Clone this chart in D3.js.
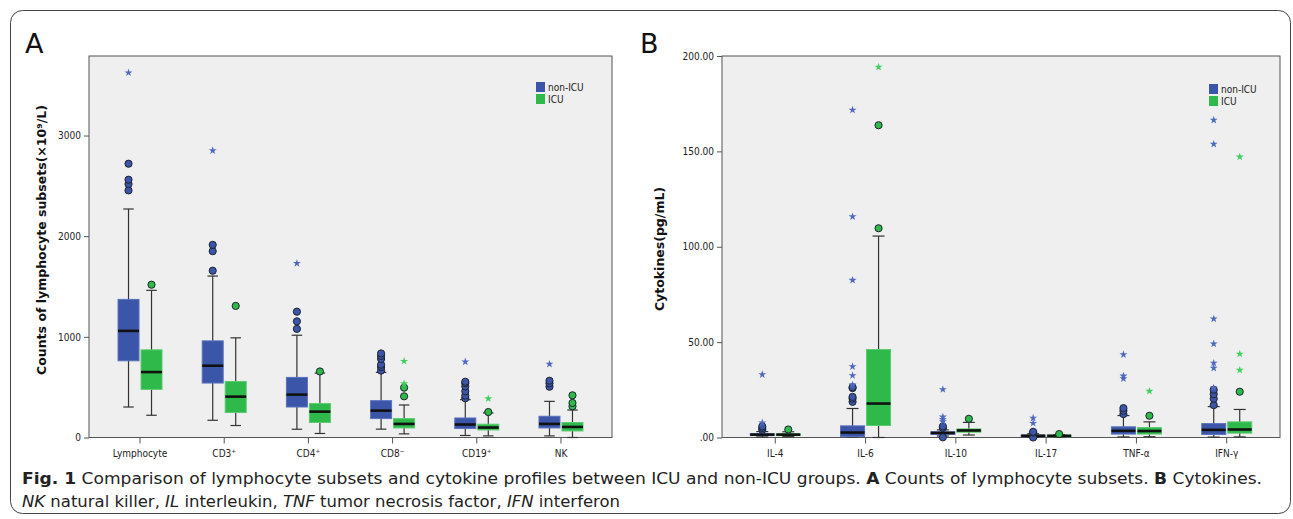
<!DOCTYPE html>
<html>
<head>
<meta charset="utf-8">
<script src="https://cdn.jsdelivr.net/npm/d3@7"></script>
<style>
  body { margin: 0; background: #fff; }
  text { font-family: "DejaVu Sans", sans-serif; }
</style>
</head>
<body>
<div id="chart"></div>
<script>
// panel A: lymphocyte subsets, box = [low whisker, q1, median, q3, high whisker]
const catsA = ["Lymphocyte", "CD3⁺", "CD4⁺", "CD8⁻", "CD19⁺", "NK"];
const aNonIcuBox = [[303, 762, 1059, 1372, 2270], [171, 541, 713, 960, 1604], [82, 303, 426, 597, 1016],
                    [83, 188, 267, 366, 647], [20, 89, 129, 194, 376], [16, 95, 135, 211, 359]];
const aIcuBox = [[221, 478, 650, 871, 1462], [119, 248, 406, 557, 990], [40, 149, 257, 337, 640],
                 [36, 95, 135, 188, 323], [16, 75, 99, 132, 244], [0, 65, 105, 149, 273]];
const aNonIcuOut = [[2455, 2518, 2561, 2720], [1657, 1851, 1914], [1079, 1154, 1250],
                    [665, 700, 723, 780, 810, 835], [390, 416, 459, 508, 540, 554], [505, 538, 564]];
const aNonIcuExt = [[3624], [2851], [1730], [], [752], [729]];
const aIcuOut = [[1518], [1307], [656], [409, 495], [253], [310, 343, 419]];
const aIcuExt = [[], [], [], [535, 758], [386], []];
const aTicks = [0, 1000, 2000, 3000];

// panel B: cytokines
const catsB = ["IL-4", "IL-6", "IL-10", "IL-17", "TNF-α", "IFN-γ"];
const bNonIcuBox = [[0.3, 1.0, 1.5, 2.0, 3.1], [0.3, 0.5, 2.6, 6.1, 15.2], [0.8, 1.6, 2.4, 3.0, 4.0],
                    [0.2, 0.6, 0.9, 1.3, 2.0], [0.3, 1.8, 3.5, 5.6, 11.5], [0.2, 1.6, 4.0, 7.3, 16.2]];
const bIcuBox = [[0.5, 1.0, 1.5, 2.0, 3.0], [0, 6.3, 17.8, 46.1, 105.6], [1.3, 2.8, 3.7, 4.5, 7.9],
                 [0.3, 0.6, 0.9, 1.2, 1.5], [0.4, 1.8, 3.4, 5.2, 8.2], [0.3, 2.3, 4.2, 8.2, 14.7]];
const bNonIcuOut = [[4.0, 5.0, 5.8], [18.7, 20.4, 21.3, 25.9, 26.4], [0.1, 5.0, 5.8],
                    [0.0, 2.5, 3.0], [12.3, 14.0, 15.4], [17.0, 20.3, 22.7, 25.0]];
const bNonIcuExt = [[7.7, 33.0], [27.6, 32.5, 37.2, 82.5, 115.8, 171.7], [8.4, 9.6, 10.8, 25.2],
                    [7.5, 10.2], [30.9, 32.3, 43.5], [26.0, 36.4, 39.0, 49.1, 62.2, 153.8, 166.4]];
const bIcuOut = [[4.2], [109.7, 163.7], [9.8], [1.8], [11.4], [24.0]];
const bIcuExt = [[], [194.2], [], [], [24.3], [35.3, 43.8, 147.1]];
const bTicks = [0, 50, 100, 150, 200];

const groups = ["non-ICU", "ICU"];
const blue = "#3b56a8", green = "#2eb94a";
const blueLine = "#5a72bd", greenLine = "#5ccb70";

const width = 1293, height = 519;
const svg = d3.select("#chart").append("svg")
    .attr("width", width)
    .attr("height", height);

svg.append("rect")
    .attr("x", 10.5).attr("y", 10.5)
    .attr("width", 1280).attr("height", 503)
    .attr("rx", 12)
    .attr("fill", "none")
    .attr("stroke", "#444");

function panel(opts) {
    const g = svg.append("g");
    const x = d3.scaleBand()
        .domain(opts.cats)
        .range([opts.left, opts.right])
        .paddingInner(0)
        .paddingOuter(opts.padOuter);
    const y = d3.scaleLinear()
        .domain(opts.domain)
        .range([opts.bottom, opts.top]);

    g.append("rect")
        .attr("x", opts.left).attr("y", opts.top)
        .attr("width", opts.right - opts.left).attr("height", opts.bottom - opts.top)
        .attr("fill", "#efefef")
        .attr("stroke", "#555");

    // y axis
    g.append("g")
        .attr("transform", `translate(${opts.left},0)`)
        .call(d3.axisLeft(y).tickValues(opts.ticks).tickSize(5).tickFormat(opts.fmt))
        .call(g => g.select(".domain").remove())
        .call(g => g.selectAll("line").attr("stroke", "#555"))
        .call(g => g.selectAll("text").attr("font-size", 10).attr("fill", "#222")
            .style("font-stretch", "condensed"));

    // x axis
    g.append("g")
        .attr("transform", `translate(0,${opts.bottom})`)
        .call(d3.axisBottom(x).tickSize(6).tickPadding(6))
        .call(g => g.select(".domain").remove())
        .call(g => g.selectAll("line").attr("stroke", "#555"))
        .call(g => g.selectAll("text").attr("font-size", 10).attr("fill", "#222")
            .style("font-stretch", "condensed"));

    const bw = opts.boxW;
    const series = [
        {box: opts.nonBox, out: opts.nonOut, ext: opts.nonExt, fill: blue, line: blueLine, dx: -(bw / 2 + 1)},
        {box: opts.icuBox, out: opts.icuOut, ext: opts.icuExt, fill: green, line: greenLine, dx: bw / 2 + 1}
    ];

    series.forEach(s => {
        const sg = g.append("g");
        const cx = (d, i) => x(opts.cats[i]) + x.bandwidth() / 2 + s.dx;
        const items = s.box.map((b, i) => ({b: b, i: i}));

        // whiskers
        sg.selectAll(".wh").data(items).join("line")
            .attr("x1", d => cx(null, d.i)).attr("x2", d => cx(null, d.i))
            .attr("y1", d => y(d.b[0])).attr("y2", d => y(d.b[4]))
            .attr("stroke", "#333").attr("stroke-width", 1.2);
        [0, 4].forEach(k => {
            sg.selectAll(".cap" + k).data(items).join("line")
                .attr("x1", d => cx(null, d.i) - bw / 4).attr("x2", d => cx(null, d.i) + bw / 4)
                .attr("y1", d => y(d.b[k])).attr("y2", d => y(d.b[k]))
                .attr("stroke", "#333").attr("stroke-width", 1.2);
        });
        // boxes
        sg.selectAll(".box").data(items).join("rect")
            .attr("x", d => cx(null, d.i) - bw / 2)
            .attr("y", d => y(d.b[3]))
            .attr("width", bw)
            .attr("height", d => Math.max(1.5, y(d.b[1]) - y(d.b[3])))
            .attr("fill", s.fill)
            .attr("stroke", s.line).attr("stroke-width", 1);
        sg.selectAll(".med").data(items).join("line")
            .attr("x1", d => cx(null, d.i) - bw / 2).attr("x2", d => cx(null, d.i) + bw / 2)
            .attr("y1", d => y(d.b[2])).attr("y2", d => y(d.b[2]))
            .attr("stroke", "#111").attr("stroke-width", 2.6);

        // outliers (circles)
        const outs = s.out.flatMap((arr, i) => arr.map(v => ({v: v, i: i})));
        sg.selectAll(".out").data(outs).join("circle")
            .attr("cx", d => cx(null, d.i))
            .attr("cy", d => y(d.v))
            .attr("r", 3.6)
            .attr("fill", s.fill)
            .attr("stroke", "#1c2430").attr("stroke-width", 1);

        // extremes (stars)
        const exts = s.ext.flatMap((arr, i) => arr.map(v => ({v: v, i: i})));
        sg.selectAll(".ext").data(exts).join("path")
            .attr("transform", d => `translate(${cx(null, d.i)},${y(d.v)})`)
            .attr("d", d3.symbol(d3.symbolStar, 20))
            .attr("fill", s.fill === blue ? "#5068c0" : "#3fcf5e");
    });

    // legend
    const lg = g.append("g").attr("transform", `translate(${opts.legX},${opts.legY})`);
    groups.forEach((name, i) => {
        lg.append("rect")
            .attr("x", 0).attr("y", i * 12 - 5)
            .attr("width", 9).attr("height", 10)
            .attr("fill", i === 0 ? blue : green);
        lg.append("text")
            .attr("x", 12).attr("y", i * 12)
            .attr("dy", "0.35em")
            .attr("font-size", 10)
            .style("font-stretch", "condensed")
            .attr("fill", "#222")
            .text(name);
    });

    // y label
    g.append("text")
        .attr("transform", `translate(${opts.labX},${opts.labY}) rotate(-90)`)
        .attr("text-anchor", "middle")
        .attr("font-size", 12.5)
        .attr("font-weight", "bold")
        .attr("fill", "#111")
        .text(opts.yLabel);

    // panel letter
    svg.append("text")
        .attr("x", opts.letterX).attr("y", 53)
        .attr("font-size", 27)
        .attr("fill", "#111")
        .text(opts.letter);
}

panel({
    cats: catsA, left: 89, right: 612, top: 56, bottom: 437.5, padOuter: 0.106,
    domain: [0, 3790], ticks: aTicks, fmt: d3.format("d"), boxW: 21,
    nonBox: aNonIcuBox, icuBox: aIcuBox, nonOut: aNonIcuOut, icuOut: aIcuOut,
    nonExt: aNonIcuExt, icuExt: aIcuExt,
    legX: 536, legY: 87, labX: 46, labY: 240,
    yLabel: "Counts of lymphocyte subsets(×10⁹/L)", letter: "A", letterX: 25
});

panel({
    cats: catsB, left: 722, right: 1280, top: 56, bottom: 437.5, padOuter: 0.09,
    domain: [0, 200], ticks: bTicks, fmt: d => d === 0 ? ".00" : d3.format(".2f")(d), boxW: 24,
    nonBox: bNonIcuBox, icuBox: bIcuBox, nonOut: bNonIcuOut, icuOut: bIcuOut,
    nonExt: bNonIcuExt, icuExt: bIcuExt,
    legX: 1209, legY: 89, labX: 664, labY: 249,
    yLabel: "Cytokines(pg/mL)", letter: "B", letterX: 640
});

// caption
const cap1 = svg.append("text")
    .attr("x", 22).attr("y", 484)
    .attr("font-size", 16.5)
    .attr("fill", "#222")
    .attr("textLength", 1240)
    .attr("lengthAdjust", "spacingAndGlyphs");
cap1.append("tspan").attr("font-weight", "bold").text("Fig. 1");
cap1.append("tspan").text("  Comparison of lymphocyte subsets and cytokine profiles between ICU and non-ICU groups. ");
cap1.append("tspan").attr("font-weight", "bold").text("A");
cap1.append("tspan").text(" Counts of lymphocyte subsets. ");
cap1.append("tspan").attr("font-weight", "bold").text("B");
cap1.append("tspan").text(" Cytokines.");

const cap2 = svg.append("text")
    .attr("x", 22).attr("y", 507)
    .attr("font-size", 16.5)
    .attr("fill", "#222")
    .attr("textLength", 598)
    .attr("lengthAdjust", "spacingAndGlyphs");
[["NK", true], [" natural killer, ", false], ["IL", true], [" interleukin, ", false],
 ["TNF", true], [" tumor necrosis factor, ", false], ["IFN", true], [" interferon", false]]
    .forEach(p => cap2.append("tspan").attr("font-style", p[1] ? "italic" : "normal").text(p[0]));
</script>
</body>
</html>
